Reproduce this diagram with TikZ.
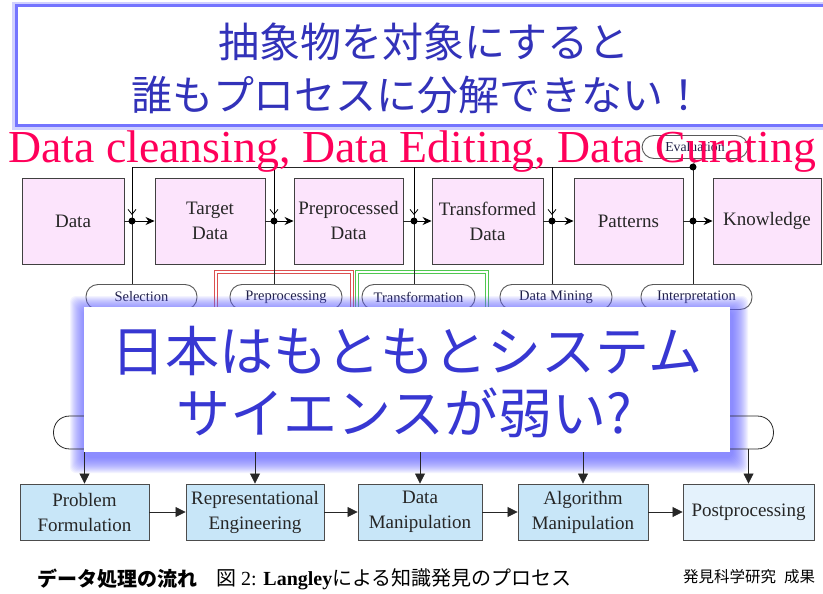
\documentclass[tikz,border=0pt]{standalone}
\usepackage{fontspec}
\setmainfont{Liberation Serif}
\newfontfamily\jp{Noto Sans CJK JP}
\usetikzlibrary{arrows.meta,calc}
\definecolor{pinkc}{RGB}{252,228,252}
\definecolor{bluec}{RGB}{200,230,248}
\definecolor{bluelt}{RGB}{228,242,252}
\definecolor{titleblue}{RGB}{50,50,185}
\definecolor{midblue}{RGB}{55,55,210}
\definecolor{redtxt}{RGB}{255,0,90}
\definecolor{glowblue}{RGB}{100,100,255}
\definecolor{ovaltxt}{RGB}{30,30,70}
\definecolor{boxred}{RGB}{220,80,80}
\definecolor{boxgreen}{RGB}{80,200,80}
\begin{document}
\begin{tikzpicture}[x=1pt,y=-1pt,
  pbox/.style={draw=black!75, line width=0.9pt, fill=pinkc, minimum height=86pt, inner sep=0pt, align=center, text=black!85, font=\fontsize{19}{25}\selectfont},
  lbox/.style={draw=black!70, line width=0.9pt, fill=bluec, minimum height=56pt, inner sep=0pt, align=center, text=black!85, font=\fontsize{19}{25}\selectfont},
  oval/.style={draw=black!65, line width=0.9pt, fill=white, rounded corners=12pt, minimum height=25pt, inner sep=0pt, font=\fontsize{14.5}{15}\selectfont, text=ovaltxt},
  jdot/.style={circle, fill=black, inner sep=0pt, minimum size=7pt},
  harr/.style={-{Stealth[length=9pt,width=8pt,inset=3pt]}, line width=0.8pt},
  varr/.style={-{Straight Barb[length=5pt,width=8pt]}, line width=0.8pt},
  larr/.style={-{Triangle[length=10pt,width=10pt]}, line width=0.8pt},
  conn/.style={line width=0.8pt, draw=black!85},
  dbl/.style={line width=1.1pt, double=white, double distance=1.6pt},
]
\useasboundingbox (0,0) rectangle (823,594);
\fill[white] (0,0) rectangle (823,594);

% ---------- top title box ----------
\draw[glowblue!30, line width=8pt] (16,6) rectangle (845,126);
\draw[glowblue!90, line width=3pt, fill=white] (16,6) rectangle (845,126);
\node[text=titleblue, font=\jp\fontsize{41}{41}\selectfont] (t1txt) at (424,42) {抽象物を対象にすると};
\node[text=titleblue, font=\jp\fontsize{41}{41}\selectfont] (t2txt) at (418,95) {誰もプロセスに分解できない！};

% ---------- upper (KDD) diagram ----------
\node[pbox, minimum width=102pt] (data) at (73,221) {Data};
\node[pbox, minimum width=110pt] (target) at (210,221) {Target\\Data};
\node[pbox, minimum width=109pt] (prep) at (348.5,221) {Preprocessed\\Data};
\node[pbox, minimum width=111pt] (trans) at (487.5,221) {Transformed\\Data};
\node[pbox, minimum width=109pt] (patt) at (628.5,221) {Patterns};
\node[pbox, minimum width=108pt] (know) at (767,221) {Knowledge};

\coordinate (j1) at (132,221);
\coordinate (j2) at (274,221);
\coordinate (j3) at (414,221);
\coordinate (j4) at (552,221);
\coordinate (j5) at (693,221);
\coordinate (u1) at (132,167);
\coordinate (u2) at (274,167);
\coordinate (u3) at (414,167);
\coordinate (u4) at (552,167);
\coordinate (u5) at (693,167);

% double rectangles (red / green)
\draw[boxred, dbl] (216,272) rectangle (352,420);
\draw[boxgreen, dbl] (357,272) rectangle (487,420);

% ovals
\node[oval, minimum width=111pt] (sel) at (141.5,297) {Selection};
\node[oval, minimum width=112pt] (ppr) at (286,297) {Preprocessing};
\node[oval, minimum width=113pt] (tfm) at (418.5,297) {Transformation};
\node[oval, minimum width=112pt] (dmn) at (556,297) {Data Mining};
\node[oval, minimum width=111pt] (itp) at (696.5,297) {Interpretation};
\node[oval, minimum width=106pt, minimum height=23pt, font=\fontsize{13.7}{14}\selectfont] (evl) at (695,147) {Evaluation};

% top feedback line
\draw[conn] (u1) -- (u5);
\draw[conn] (u5) -- (evl.south);
% verticals
\draw[conn] (u1) -- (j1 |- sel.north);
\draw[conn] (u2) -- (j2 |- ppr.north);
\draw[conn] (u3) -- (j3 |- tfm.north);
\draw[conn] (u4) -- (j4 |- dmn.north);
\draw[conn] (u5) -- (j5 |- itp.north);
\draw[varr] (u1) -- ($(j1)+(0,-6)$);
\draw[varr] (u2) -- ($(j2)+(0,-6)$);
\draw[varr] (u3) -- ($(j3)+(0,-6)$);
\draw[varr] (u4) -- ($(j4)+(0,-6)$);
% horizontals
\draw[conn] (data.east) -- (j1);
\draw[harr] (j1) -- (target.west);
\draw[conn] (target.east) -- (j2);
\draw[harr] (j2) -- (prep.west);
\draw[conn] (prep.east) -- (j3);
\draw[harr] (j3) -- (trans.west);
\draw[conn] (trans.east) -- (j4);
\draw[harr] (j4) -- (patt.west);
\draw[conn] (patt.east) -- (j5);
\draw[harr] (j5) -- (know.west);
% dots
\foreach \j in {j1,j2,j3,j4,j5,u5} \node[jdot] at (\j) {};

% red overlay text
\node[anchor=base west, inner sep=0pt, text=redtxt, font=\fontsize{45.8}{46}\selectfont] (redline) at (8,162) {Data cleansing, Data Editing, Data Curating};

% ---------- lower (Langley) diagram ----------
\coordinate (fLt) at (70,416);
\coordinate (fLb) at (70,449);
\coordinate (fRt) at (757,416);
\coordinate (fRb) at (757,449);

% glow of middle box
\coordinate (mnw) at (84,307);
\coordinate (mse) at (730,452);
\foreach \k in {1,...,16}
  \fill[glowblue, opacity=0.075, rounded corners=6pt]
    ($(mnw)+({2-\k*1.0},{5-\k*1.0})$) rectangle ($(mse)+({2+\k*1.0},{5+\k*1.0})$);

\node[lbox, minimum width=129pt] (pf) at (84.5,512) {Problem\\Formulation};
\node[lbox, minimum width=138pt] (re) at (255,512) {Representational\\Engineering};
\node[lbox, minimum width=124pt] (dm) at (420,512) {Data\\Manipulation};
\node[lbox, minimum width=130pt] (am) at (583,512) {Algorithm\\Manipulation};
\node[lbox, minimum width=131pt, fill=bluelt] (pp) at (748.5,512) {Postprocessing};

\draw[conn] (fLt) -- (fRt) .. controls (779,416) and (779,449) .. (fRb) -- (fLb) .. controls (48,449) and (48,416) .. (fLt);
\foreach \b in {pf,re,dm,am,pp}
  \draw[conn, larr] (\b.north |- fLb) -- (\b.north);
\draw[conn, larr] (pf.east) -- (re.west);
\draw[conn, larr] (re.east) -- (dm.west);
\draw[conn, larr] (dm.east) -- (am.west);
\draw[conn, larr] (am.east) -- (pp.west);

% middle white box and text
\node[fill=white, minimum width=646pt, minimum height=145pt, inner sep=0pt] (mbox) at (407,379.5) {};
\node[text=midblue, font=\jp\fontsize{54}{54}\selectfont] (m1) at (407,351) {日本はもともとシステム};
\node[text=midblue, font=\jp\fontsize{54}{54}\selectfont] (m2) at (404,413) {サイエンスが弱い?};

% ---------- captions ----------
\node[anchor=west, inner sep=0pt, font=\jp\bfseries\fontsize{20}{20}\selectfont] (cap1) at (37,579) {データ処理の流れ};
\node[anchor=west, inner sep=0pt, font=\fontsize{20}{20}\selectfont] (cap2) at (216,579) {{\jp 図} 2: \textbf{Langley}{\jp による知識発見のプロセス}};
\node[anchor=west, inner sep=0pt, font=\jp\fontsize{15.5}{16}\selectfont] (cap3) at (683,577) {発見科学研究\hspace{8pt}成果};
\end{tikzpicture}
\end{document}
